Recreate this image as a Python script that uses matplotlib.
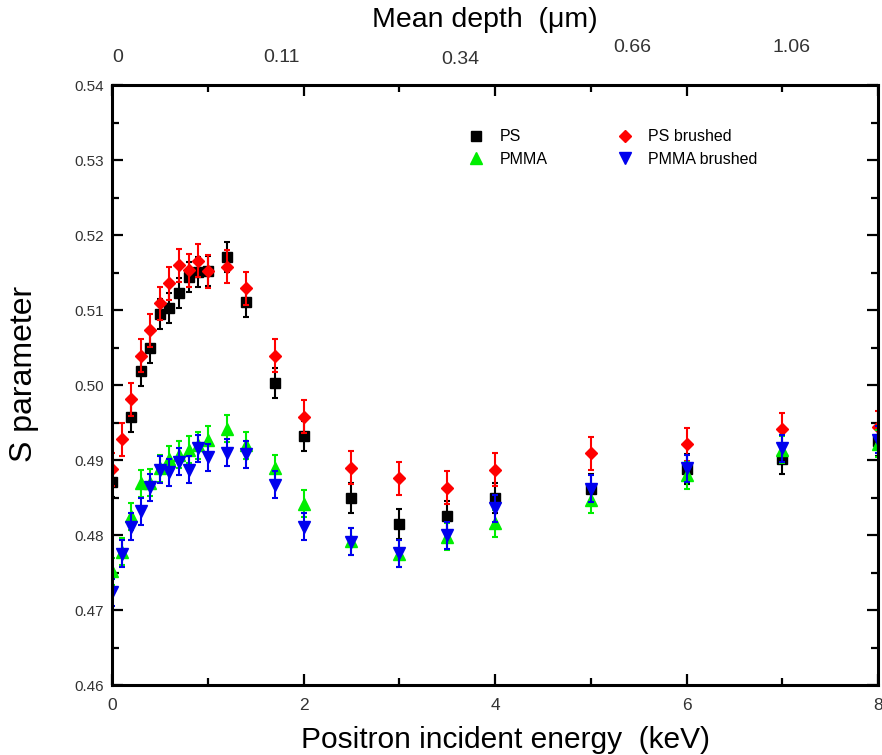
import matplotlib.pyplot as plt
from matplotlib.ticker import MultipleLocator

plt.rcParams['font.family'] = ['Liberation Sans', 'DejaVu Sans']

# Data
E_ps = [0, 0.2, 0.3, 0.4, 0.5, 0.6, 0.7, 0.8, 0.9, 1.0, 1.2, 1.4, 1.7, 2.0,
        2.5, 3.0, 3.5, 4.0, 5.0, 6.0, 7.0, 8.0]
S_ps = [0.4871, 0.4957, 0.5019, 0.5049, 0.5095, 0.5103, 0.5123, 0.5144, 0.5151,
        0.5152, 0.5171, 0.5111, 0.5003, 0.4932, 0.4850, 0.4815, 0.4825, 0.4850,
        0.4861, 0.4888, 0.4901, 0.4925]

E_all = [0, 0.1, 0.2, 0.3, 0.4, 0.5, 0.6, 0.7, 0.8, 0.9, 1.0, 1.2, 1.4, 1.7,
         2.0, 2.5, 3.0, 3.5, 4.0, 5.0, 6.0, 7.0, 8.0]
S_ps_brushed = [0.4888, 0.4928, 0.4981, 0.5039, 0.5073, 0.5109, 0.5136, 0.5160,
                0.5153, 0.5166, 0.5152, 0.5158, 0.5129, 0.5039, 0.4958, 0.4890,
                0.4876, 0.4863, 0.4887, 0.4909, 0.4921, 0.4941, 0.4944]
S_pmma = [0.4752, 0.4778, 0.4825, 0.4869, 0.4870, 0.4889, 0.4901, 0.4907,
          0.4914, 0.4920, 0.4927, 0.4942, 0.4920, 0.4889, 0.4842, 0.4792,
          0.4775, 0.4798, 0.4816, 0.4847, 0.4880, 0.4914, 0.4922]
S_pmma_brushed = [0.4724, 0.4775, 0.4811, 0.4832, 0.4864, 0.4887, 0.4884, 0.4898,
                  0.4887, 0.4916, 0.4904, 0.4910, 0.4908, 0.4867, 0.4811, 0.4791,
                  0.4776, 0.4800, 0.4836, 0.4862, 0.4889, 0.4916, 0.4927]

err_ps = 0.002
err_ps_brushed = 0.0022
err_pmma = 0.0018
err_pmma_brushed = 0.0018

depth_labels = ['0', '0.11', '0.34', '0.66', '1.06']

fig = plt.figure(figsize=(8.82, 7.55), dpi=100)
ax = fig.add_axes([0.127, 0.0927, 0.8685, 0.7947])

series = [
    (E_ps, S_ps, err_ps, 'black', 's', 7, 'PS'),
    (E_all, S_ps_brushed, err_ps_brushed, 'red', 'D', 6.5, 'PS brushed'),
    (E_all, S_pmma, err_pmma, '#00ee00', '^', 8.5, 'PMMA'),
    (E_all, S_pmma_brushed, err_pmma_brushed, '#0000ee', 'v', 8.5, 'PMMA brushed'),
]
handles = {}
for x, y, e, c, m, ms, lab in series:
    ax.errorbar(x, y, yerr=e, fmt='none', ecolor=c, elinewidth=1.5,
                capsize=2.5, capthick=1.5)
    h, = ax.plot(x, y, linestyle='none', marker=m, color=c, markersize=ms,
                 label=lab)
    handles[lab] = h

ax.set_xlim(0, 8)
ax.set_ylim(0.46, 0.54)
ax.xaxis.set_major_locator(MultipleLocator(2))
ax.xaxis.set_minor_locator(MultipleLocator(1))
ax.yaxis.set_major_locator(MultipleLocator(0.01))
ax.yaxis.set_minor_locator(MultipleLocator(0.005))
ax.yaxis.set_major_formatter(plt.FuncFormatter(lambda v, p: f'{v:.2f}'))

ax.tick_params(which='both', direction='in', top=True, right=True,
               width=1.6, labelcolor='#333333')
ax.tick_params(which='major', length=8)
ax.tick_params(which='minor', length=5)
ax.tick_params(axis='x', labelsize=12.5, pad=9)
ax.tick_params(axis='y', labelsize=11, pad=6)
for sp in ax.spines.values():
    sp.set_linewidth(2.2)

ax.set_xlabel('Positron incident energy  (keV)', fontsize=21.5)
ax.xaxis.set_label_coords(0.514, -0.068)
ax.set_ylabel('S parameter', fontsize=23)
ax.yaxis.set_label_coords(-0.095, 0.518)

# top "mean depth" labels, staggered as in the original
depth_pos = [(118, 57), (281, 57), (460, 60), (632, 48), (792, 48)]
for lab, (px, py) in zip(depth_labels, depth_pos):
    fig.text(px / 882, 1 - py / 755, lab, fontsize=14, color='#333333',
             ha='center', va='center')
fig.text(485 / 882, 1 - 20 / 755, 'Mean depth  (μm)', fontsize=20.5,
         ha='center', va='center')

order = ['PS', 'PMMA', 'PS brushed', 'PMMA brushed']
ax.legend([handles[k] for k in order], order, ncol=2, frameon=False,
          loc='upper left', bbox_to_anchor=(0.443, 0.95), fontsize=11.5,
          handletextpad=0.8, columnspacing=4.2, labelspacing=0.45,
          handlelength=1.3)

fig.savefig('out.png', dpi=100)
